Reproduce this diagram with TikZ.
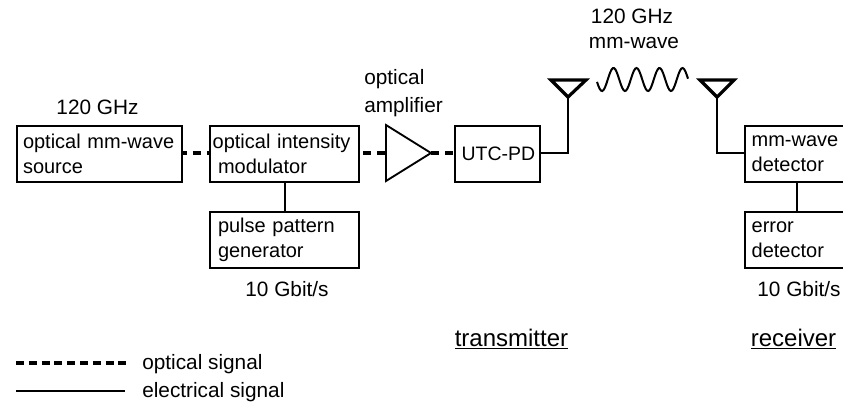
\documentclass[tikz,border=0pt]{standalone}
\usepackage{fontspec}
\setmainfont{Liberation Sans}
\begin{document}
\begin{tikzpicture}[x=0.75pt,y=-0.75pt,
  every node/.style={font=\fontsize{15}{19}\selectfont},
  block/.style={draw,line width=1.5pt,minimum height=42pt,anchor=north west,align=left,text width=#1,inner xsep=0pt,inner ysep=0pt,minimum width=#1},
  lab/.style={inner sep=0pt,font=\fontsize{15.6}{21}\selectfont},
  under/.style={inner sep=0pt,font=\fontsize{18}{21}\selectfont},
  elec/.style={line width=1.4pt},
  optic/.style={line width=3pt,dash pattern=on 6pt off 4.5pt},
  ant/.style={line width=2.4pt,line join=miter}]
\useasboundingbox (0,0) rectangle (843,405);
\clip (0,0) rectangle (843,405);
\node[block=124pt] (src) at (16,125) {\hspace{4.5pt}optical mm-wave\\\hspace{4.5pt}source};
\node[block=112pt] (mod) at (209,125) {\hspace{2pt}optical intensity\\\hspace{6pt}modulator};
\node[block=112pt] (ppg) at (209,210.5) {\hspace{6pt}pulse pattern\\\hspace{6pt}generator};
\node[block=64pt,font=\fontsize{14.6}{19}\selectfont] (utc) at (454,125) {\hspace{5pt}UTC-PD};
\node[block=90pt] (det) at (744,125) {\hspace{5pt}mm-wave\\\hspace{5pt}detector};
\node[block=90pt] (err) at (744,210.5) {\hspace{5pt}error\\\hspace{5pt}detector};
% amplifier triangle
\coordinate (ampTop) at (386,125);
\coordinate (ampBot) at (386,181);
\coordinate (ampIn) at (386,153);
\coordinate (ampOut) at (431,153);
\draw[line width=1.4pt,line join=miter] (ampTop) -- (ampOut) -- (ampBot) -- cycle;
% optical links
\draw[optic,dash phase=3.4pt] (src.east |- 0,153) -- (mod.west |- 0,153);
\draw[optic,dash phase=8.25pt] (mod.east |- 0,153) -- (ampIn);
\draw[optic] (ampOut) -- (utc.west |- 0,153);
% electrical links
\draw[elec] (mod.south -| 285,0) -- (ppg.north -| 285,0);
\draw[elec] (det.south -| 797,0) -- (err.north -| 797,0);
% antennas
\coordinate (txApex) at (568,97);
\coordinate (rxApex) at (717,97);
\coordinate (txL) at (551,80);
\coordinate (txR) at (586,80);
\coordinate (rxL) at (700,80);
\coordinate (rxR) at (734,80);
\coordinate (txFoot) at (568,153);
\coordinate (rxFoot) at (717,153);
\draw[ant] (txL) -- (txR) -- (txApex) -- cycle;
\draw[ant] (rxL) -- (rxR) -- (rxApex) -- cycle;
\draw[elec] (txApex) -- (txFoot) -- (utc.east |- txFoot);
\draw[elec] (rxApex) -- (rxFoot) -- (det.west |- rxFoot);
% wave
\draw[line width=1.5pt] plot[smooth,domain=597:688,samples=70] (\x,{79.5-11.5*cos((\x-613.5)*15.65)});
% labels
\node[lab] (l1) at (97.5,107.5) {120 GHz};
\node[lab,align=left,anchor=west] (l2) at (364,93.5) {optical\\amplifier};
\node[lab] (l3) at (287,289) {10 Gbit/s};
\node[lab] (l4) at (632,16.5) {120 GHz};
\node[lab] (l5) at (634,43) {mm-wave};
\node[lab] (l6) at (799,289) {10 Gbit/s};
\node[under] (l7) at (511.5,339) {\underline{transmitter}};
\node[under] (l8) at (793.5,339) {\underline{receiver}};
% legend
\coordinate (optA) at (16,363);
\coordinate (optB) at (130,363);
\coordinate (elA) at (16,391);
\coordinate (elB) at (125,391);
\draw[optic,dash pattern=on 6pt off 3.6pt] (optA) -- (optB);
\draw[elec,line width=1.1pt] (elA) -- (elB);
\node[lab,anchor=west] (l9) at (142,364) {optical signal};
\node[lab,anchor=west] (l10) at (142,392) {electrical signal};
\end{tikzpicture}
\end{document}
